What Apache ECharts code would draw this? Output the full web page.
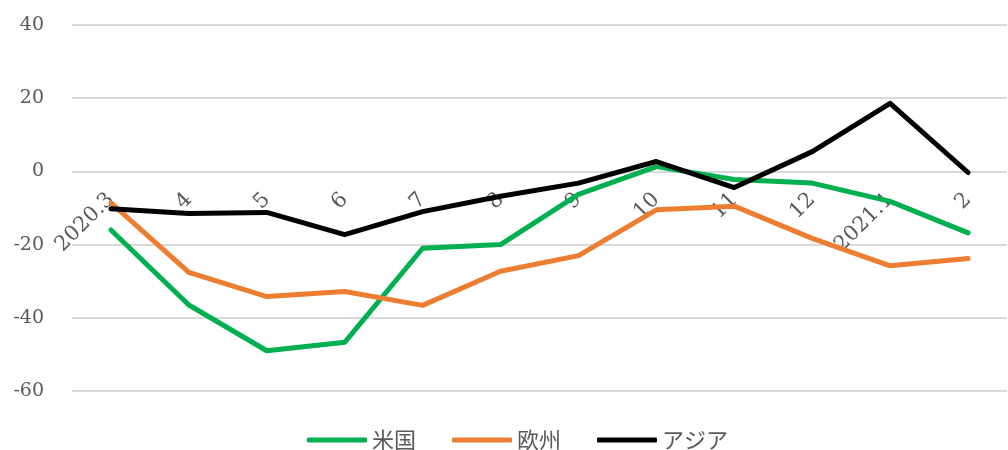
<!DOCTYPE html>
<html><head><meta charset="utf-8">
<script src="https://cdn.jsdelivr.net/npm/echarts@6/dist/echarts.min.js"></script>
<style>html,body{margin:0;padding:0;background:#fff}#c{width:1008px;height:450px}</style>
</head><body><div id="c"></div>
<script>
const categories = ['2020.3','4','5','6','7','8','9','10','11','12','2021.1','2'];
const usa    = [-16, -36.5, -49, -46.7, -21, -20, -6.3, 1.3, -2.2, -3.2, -8.2, -16.8];
const europe = [-8.6, -27.6, -34.2, -32.8, -36.6, -27.3, -23, -10.5, -9.5, -18.3, -25.8, -23.8];
const asia   = [-10.2, -11.5, -11.2, -17.3, -11, -6.8, -3.2, 2.7, -4.4, 5.4, 18.6, -0.3];
const yTicks = {min: -60, max: 40, interval: 20};

const chart = echarts.init(document.getElementById('c'));
const serif = '"DejaVu Serif", "Liberation Serif", serif';
function line(name, data, color) {
  return {name, type: 'line', z: 5, data, symbol: 'none', lineStyle: {color, width: 5, join: 'round', cap: 'round'}, itemStyle: {color}};
}
const gridTop = 25, gridBottom = 59, plotH = 450 - gridTop - gridBottom;
const zeroOffset = -plotH * (0 - yTicks.min) / (yTicks.max - yTicks.min);
chart.setOption({
  animation: false,
  grid: {left: 72, right: 1, top: gridTop, bottom: gridBottom, outerBoundsMode: 'none', containLabel: false},
  legend: {
    bottom: -6, left: 302, itemWidth: 60, itemHeight: 5, itemGap: 36,
    icon: 'roundRect',
    textStyle: {color: '#595959', fontSize: 22, fontFamily: '"Noto Sans CJK JP", sans-serif'},
    data: ['米国','欧州','アジア']
  },
  xAxis: {
    type: 'category', data: categories, boundaryGap: true, position: 'bottom', offset: zeroOffset, z: 1,
    axisLine: {show: false, onZero: false}, axisTick: {show: false},
    axisLabel: {rotate: 45, margin: 25, color: '#595959', fontSize: 21, fontFamily: serif, interval: 0}
  },
  yAxis: {
    type: 'value', min: yTicks.min, max: yTicks.max, interval: yTicks.interval,
    axisLine: {show: false}, axisTick: {show: false},
    axisLabel: {margin: 28, color: '#595959', fontSize: 19, fontFamily: serif},
    splitLine: {lineStyle: {color: '#d9d9d9', width: 2}}
  },
  series: [
    line('米国', usa, '#00B050'),
    line('欧州', europe, '#ED7D31'),
    line('アジア', asia, '#000000')
  ]
});
</script></body></html>
